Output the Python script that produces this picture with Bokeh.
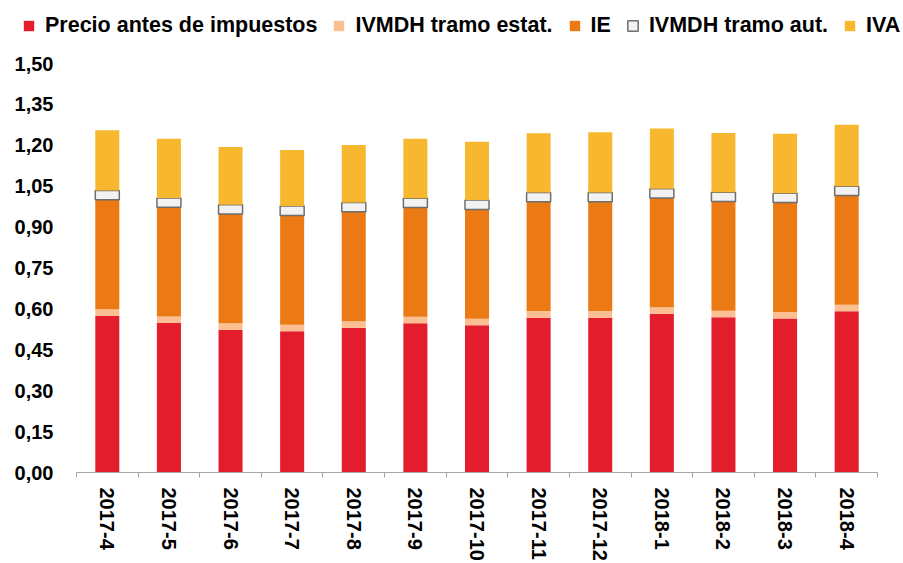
import math
from bokeh.plotting import figure
from bokeh.layouts import column
from bokeh.models import ColumnDataSource, FixedTicker, CustomJSTickFormatter, Range1d, Legend, LegendItem
from bokeh.embed import file_html
from bokeh.resources import INLINE

months = ["2017-4", "2017-5", "2017-6", "2017-7", "2017-8", "2017-9", "2017-10",
          "2017-11", "2017-12", "2018-1", "2018-2", "2018-3", "2018-4"]
precio = [0.575, 0.548, 0.523, 0.518, 0.531, 0.547, 0.540, 0.568, 0.568, 0.582, 0.569, 0.565, 0.591]
ivmdh_estat = [0.024, 0.024, 0.024, 0.024, 0.024, 0.024, 0.024, 0.024, 0.024, 0.024, 0.024, 0.024, 0.024]
ie = [0.401, 0.401, 0.401, 0.401, 0.401, 0.401, 0.401, 0.401, 0.401, 0.401, 0.401, 0.401, 0.401]
ivmdh_aut = [0.034, 0.034, 0.034, 0.034, 0.034, 0.034, 0.034, 0.034, 0.034, 0.034, 0.034, 0.034, 0.034]
iva = [0.221, 0.217, 0.212, 0.206, 0.211, 0.218, 0.214, 0.217, 0.221, 0.221, 0.217, 0.218, 0.225]

series_names = ["Precio antes de impuestos", "IVMDH tramo estat.", "IE", "IVMDH tramo aut.", "IVA"]
y_ticks = [0.0, 0.15, 0.3, 0.45, 0.6, 0.75, 0.9, 1.05, 1.2, 1.35, 1.5]
y_tick_labels = ["0,00", "0,15", "0,30", "0,45", "0,60", "0,75", "0,90", "1,05", "1,20", "1,35", "1,50"]

colors = ["#E31D2B", "#FBBF91", "#EC7A14", "#F2F2F2", "#F7B830"]
line_colors = [None, None, None, "#6E6E6E", None]
line_widths = [0, 0, 0, 1.5, 0]

n = len(months)
xpos = [i + 0.5 for i in range(n)]
bounds = [i for i in range(n + 1)]
keys = ["precio", "estat", "ie", "aut", "iva"]
src = ColumnDataSource(dict(x=xpos, precio=precio, estat=ivmdh_estat, ie=ie, aut=ivmdh_aut, iva=iva))

FONT = "Liberation Sans"
LEG_H = 45

# ---------- legend strip ----------
pl = figure(width=903, height=LEG_H, x_range=Range1d(0, 1), y_range=Range1d(0, 1),
            output_backend="svg", toolbar_location=None,
            x_axis_location=None, y_axis_location=None, min_border=0)
pl.frame_align = False
pl.outline_line_color = None
pl.xgrid.visible = False
pl.ygrid.visible = False
items = []
for name, c, lc, lw in zip(series_names, colors, line_colors, line_widths):
    r = pl.vbar(x=[5], top=[0], width=0.1, fill_color=c, line_color=lc, line_width=lw)
    items.append(LegendItem(label=name, renderers=[r]))
lg = Legend(items=items, orientation="horizontal", location=(22, 7))
lg.label_text_font = FONT
lg.label_text_font_style = "bold"
lg.label_text_font_size = "21.5px"
lg.label_text_color = "black"
lg.glyph_width = 13
lg.glyph_height = 13
lg.label_standoff = 10
lg.spacing = 15
lg.padding = 0
lg.margin = 0
lg.border_line_color = None
lg.background_fill_alpha = 0
pl.add_layout(lg, "center")

# ---------- main chart ----------
p = figure(width=903, height=563 - LEG_H, x_range=Range1d(0, n), y_range=Range1d(0, 1.5),
           output_backend="svg", toolbar_location=None,
           min_border_left=76, min_border_right=26, min_border_top=63 - LEG_H, min_border_bottom=0)
p.frame_align = False
p.outline_line_color = None
p.xgrid.visible = False
p.ygrid.visible = False

p.vbar_stack(keys, x="x", width=0.39, source=src, fill_color=colors,
             line_color=line_colors, line_width=line_widths)

# x axis
p.xaxis.ticker = FixedTicker(ticks=xpos, minor_ticks=bounds)
p.xaxis.formatter = CustomJSTickFormatter(args=dict(mlabels=months),
                                          code="return mlabels[Math.floor(tick)]")
p.xaxis.major_label_orientation = -math.pi / 2
p.xaxis.major_tick_line_color = None
p.xaxis.major_tick_out = 0
p.xaxis.major_tick_in = 0
p.xaxis.minor_tick_out = 5
p.xaxis.minor_tick_in = 0
p.xaxis.minor_tick_line_color = "#A6A6A6"
p.xaxis.axis_line_color = "#A6A6A6"
p.xaxis.major_label_standoff = 10
p.xaxis.major_label_text_font = FONT
p.xaxis.major_label_text_font_style = "bold"
p.xaxis.major_label_text_font_size = "20px"
p.xaxis.major_label_text_color = "black"

# y axis
p.yaxis.ticker = FixedTicker(ticks=y_ticks)
p.yaxis.formatter = CustomJSTickFormatter(args=dict(yt=y_ticks, yl=y_tick_labels), code="""
let best = 0;
for (let i = 0; i < yt.length; i++) {
  if (Math.abs(yt[i] - tick) < Math.abs(yt[best] - tick)) best = i;
}
return yl[best];
""")
p.yaxis.axis_line_color = None
p.yaxis.major_tick_line_color = None
p.yaxis.minor_tick_line_color = None
p.yaxis.major_tick_out = 0
p.yaxis.major_label_standoff = 23
p.yaxis.major_label_text_font = FONT
p.yaxis.major_label_text_font_style = "bold"
p.yaxis.major_label_text_font_size = "20px"
p.yaxis.major_label_text_color = "black"

open("out.html", "w").write(file_html(column(pl, p, spacing=0), INLINE))
